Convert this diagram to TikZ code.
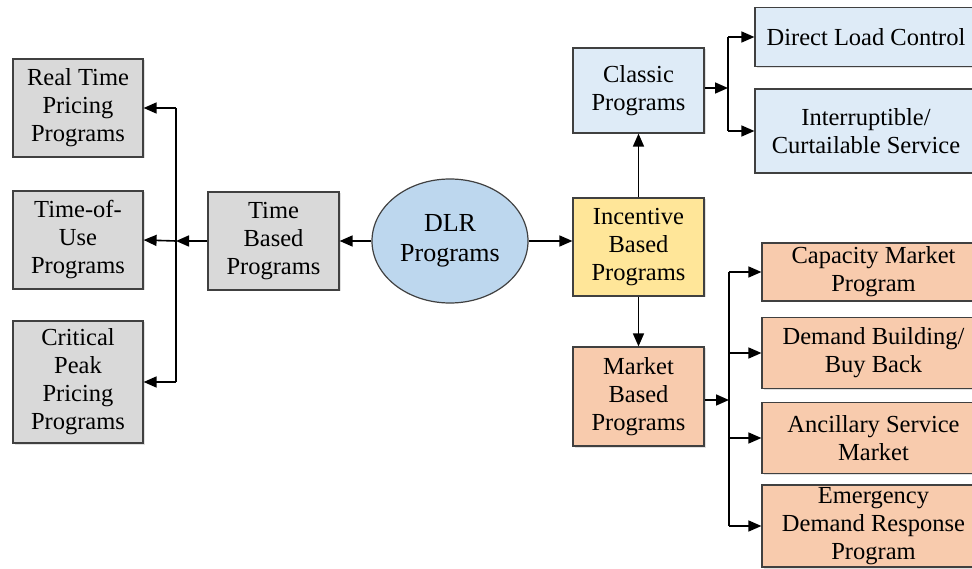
\documentclass[tikz,border=0pt]{standalone}
\usepackage{fontspec}
\setmainfont{Liberation Serif}
\usetikzlibrary{arrows.meta,shapes.geometric,shadows}

\definecolor{boxgray}{HTML}{D9D9D9}
\definecolor{boxblue}{HTML}{DEEBF7}
\definecolor{ovalblue}{HTML}{BDD7EE}
\definecolor{boxyellow}{HTML}{FFE699}
\definecolor{boxorange}{HTML}{F8CBAD}
\definecolor{edge}{HTML}{404040}

\tikzset{
  prog/.style={draw=edge, line width=1.2pt, align=center, inner sep=0pt,
    font=\fontsize{24.5}{28}\selectfont,
    drop shadow={shadow xshift=1.5pt, shadow yshift=-1.5pt, fill=gray!40, opacity=0.6}},
  box/.style args={#1/#2/#3}{prog, fill=#1, minimum width=#2pt, minimum height=#3pt},
  arr/.style={line width=1.6pt, -{Triangle[length=13pt,width=11pt]}},
  lnk/.style={line width=1.6pt}
}

\begin{document}
\begin{tikzpicture}[x=1pt,y=-1pt]
\clip (0,0) rectangle (972,569);
\fill[white] (0,0) rectangle (972,569);

% time based branch
\node[box=boxgray/130/98]  (rtp) at (78,108)    {Real Time\\Pricing\\Programs};
\node[box=boxgray/130/98]  (tou) at (78,240)    {Time-of-\\Use\\Programs};
\node[box=boxgray/130/122] (cpp) at (78,382)    {Critical\\Peak\\Pricing\\Programs};
\node[box=boxgray/131/98]  (tbp) at (273.5,241) {Time\\Based\\Programs};

% root
\node[ellipse, draw=edge, line width=1.2pt, fill=ovalblue, inner sep=0pt,
      minimum width=156pt, minimum height=124pt, align=center,
      font=\fontsize{26}{30}\selectfont] (dlr) at (450,241) {DLR\\Programs};

% incentive based branch
\node[box=boxyellow/131/98] (ibp) at (638.5,247)  {Incentive\\Based\\Programs};
\node[box=boxblue/131/85]   (cls) at (638.5,90.5) {Classic\\Programs};
\node[box=boxorange/131/99] (mbp) at (638.5,396.5){Market\\Based\\Programs};

\node[box=boxblue/222/59] (dlc) at (866,37) {Direct Load Control};
\node[box=boxblue/222/84] (int) at (866,131)  {Interruptible/\\Curtailable Service};

\node[box=boxorange/223/58] (cap) at (873.5,272) {Capacity Market\\Program};
\node[box=boxorange/223/71] (dbb) at (873.5,353) {Demand Building/\\Buy Back};
\node[box=boxorange/223/71] (asm) at (873.5,438) {Ancillary Service\\Market};
\node[box=boxorange/223/82] (edr) at (873.5,526) {Emergency\\Demand Response\\Program};

% junction points
\coordinate (tj) at (176,241);
\coordinate (cj) at (728,88);
\coordinate (mj) at (729,400);

% trunk lines of the branches
\draw[lnk] (tj |- rtp.east) -- (tj |- cpp.east);
\draw[lnk] (cj |- dlc.west) -- (cj |- int.west);
\draw[lnk] (mj |- cap.west) -- (mj |- edr.west);

% connectors
\draw[arr] (dlr.west) -- (tbp.east);
\draw[arr] (tbp.west) -- (tj);
\draw[arr] (tj |- rtp.east) -- (rtp.east);
\draw[arr] (tj) -- (tou.east);
\draw[arr] (tj |- cpp.east) -- (cpp.east);

\draw[arr] (dlr.east) -- (dlr.east -| ibp.west);
\draw[arr] (ibp.north) -- (cls.south);
\draw[arr] (ibp.south) -- (mbp.north);

\draw[arr] (cls.east |- cj) -- (cj);
\draw[arr] (cj |- dlc.west) -- (dlc.west);
\draw[arr] (cj |- int.west) -- (int.west);

\draw[arr] (mbp.east |- mj) -- (mj);
\draw[arr] (mj |- cap.west) -- (cap.west);
\draw[arr] (mj |- dbb.west) -- (dbb.west);
\draw[arr] (mj |- asm.west) -- (asm.west);
\draw[arr] (mj |- edr.west) -- (edr.west);
\end{tikzpicture}
\end{document}
